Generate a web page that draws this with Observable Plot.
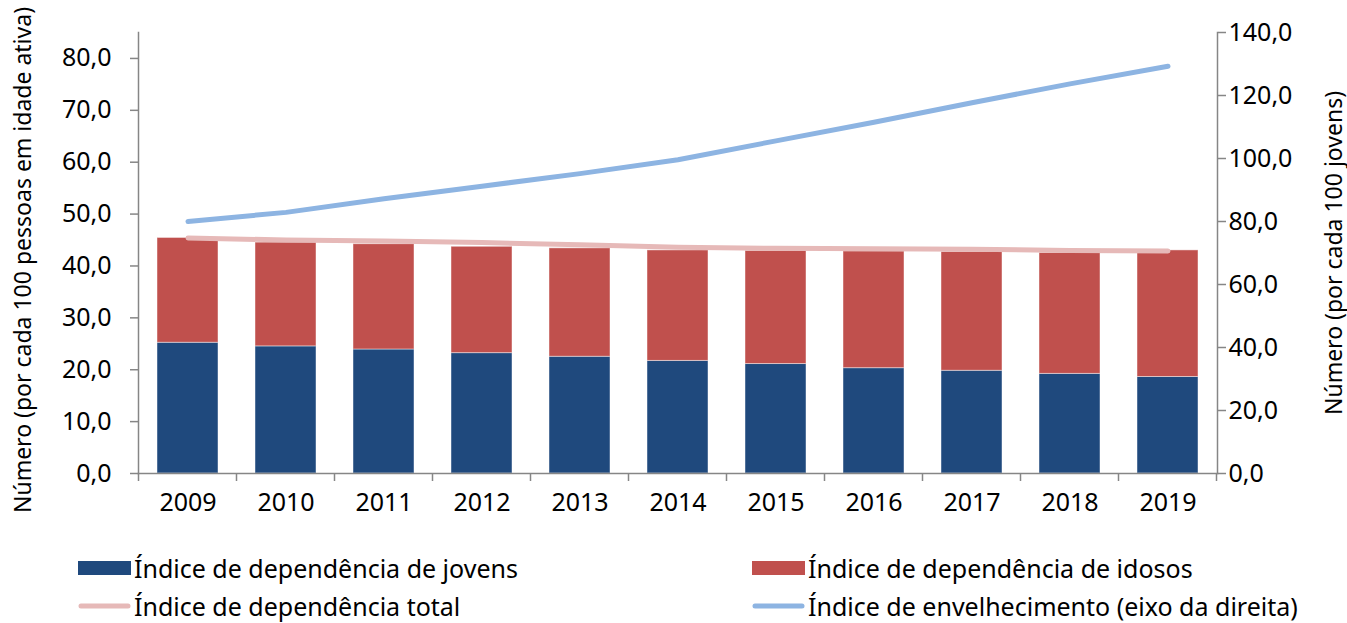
<!DOCTYPE html>
<html><head><meta charset="utf-8">
<script src="https://cdn.jsdelivr.net/npm/d3@7"></script>
<script src="https://cdn.jsdelivr.net/npm/@observablehq/plot@0.6"></script>
<style>
body{margin:0;background:#fff;font-family:"Noto Sans",sans-serif;}
#chart svg{display:block;}
#legend{position:relative;width:1347px;height:93px;}
.item{position:absolute;display:flex;align-items:center;height:34px;font-size:25px;color:#000;white-space:nowrap;}
.sw{display:inline-block;margin-right:3px;}
</style></head><body>
<div id="chart"></div>
<div id="legend"></div>
<script>
const years = ["2009","2010","2011","2012","2013","2014","2015","2016","2017","2018","2019"];
const jovens = [25.2, 24.5, 23.9, 23.2, 22.5, 21.7, 21.1, 20.3, 19.8, 19.2, 18.6];
const idosos = [20.2, 20.0, 20.3, 20.5, 20.9, 21.3, 21.8, 22.5, 22.9, 23.3, 24.4];
const total = [45.4, 45.0, 44.8, 44.5, 44.1, 43.6, 43.4, 43.3, 43.2, 43.0, 42.9];
const envelhecimento = [80.0, 82.9, 87.2, 91.2, 95.2, 99.6, 105.6, 111.5, 117.7, 123.7, 129.3];
const leftTicks = [0, 10, 20, 30, 40, 50, 60, 70, 80];
const rightTicks = [0, 20, 40, 60, 80, 100, 120, 140];
const leftMax = 85, rightMax = 140;
const leftTitle = "Número (por cada 100 pessoas em idade ativa)";
const rightTitle = "Número (por cada 100 jovens)";
const seriesNames = ["Índice de dependência de jovens", "Índice de dependência de idosos", "Índice de dependência total", "Índice de envelhecimento (eixo da direita)"];
const colors = {jovens: "#1F497D", idosos: "#C0504D", total: "#E6B9B8", env: "#8DB4E2"};
const axisGray = "#868686";

const bars = years.flatMap((y, i) => [
  {year: y, serie: "jovens", v: jovens[i]},
  {year: y, serie: "idosos", v: idosos[i]}
]);
const lines = years.map((y, i) => ({year: y, total: total[i], env: envelhecimento[i] * leftMax / rightMax}));
const fmt = v => v.toFixed(1).replace(".", ",");

const chart = Plot.plot({
  width: 1347, height: 530,
  marginLeft: 138, marginRight: 130, marginTop: 32, marginBottom: 57,
  style: {fontFamily: "'Noto Sans', sans-serif", fontSize: "25px", background: "white", overflow: "visible", color: "#000"},
  x: {domain: years, paddingInner: 0.38, paddingOuter: 0.19, axis: null},
  y: {domain: [0, leftMax], axis: null},
  color: {domain: ["jovens", "idosos"], range: [colors.jovens, colors.idosos]},
  marks: [
    Plot.barY(bars, {x: "year", y: "v", fill: "serie", stroke: "#ffffff", strokeOpacity: 0.45, strokeWidth: 1}),
    Plot.line(lines, {x: "year", y: "total", stroke: colors.total, strokeWidth: 5, strokeLinecap: "round"}),
    Plot.line(lines, {x: "year", y: "env", stroke: colors.env, strokeWidth: 5, strokeLinecap: "round"}),
    Plot.frame({anchor: "left", stroke: axisGray, strokeWidth: 1.5}),
    Plot.frame({anchor: "right", stroke: axisGray, strokeWidth: 1.5}),
    Plot.frame({anchor: "bottom", stroke: axisGray, strokeWidth: 1.5}),
    Plot.axisY(leftTicks, {anchor: "left", tickSize: 8, tickPadding: 19, tickFormat: fmt, stroke: axisGray, strokeWidth: 1.5, fontSize: 25, label: null}),
    Plot.axisY(rightTicks.map(t => t * leftMax / rightMax), {anchor: "right", tickSize: 8, tickPadding: 3, tickFormat: d => fmt(Math.round(d * rightMax / leftMax)), stroke: axisGray, strokeWidth: 1.5, fontSize: 25, label: null}),
    Plot.axisX({anchor: "bottom", tickSize: 0, tickPadding: 20, fontSize: 25, label: null}),
    Plot.text([leftTitle], {frameAnchor: "left", textAnchor: "middle", lineAnchor: "middle", rotate: -90, dx: -115, dy: 7, text: d => d, fontSize: 23}),
    Plot.text([rightTitle], {frameAnchor: "right", textAnchor: "middle", lineAnchor: "middle", rotate: -90, dx: 117, text: d => d, fontSize: 23})
  ]
});
document.getElementById("chart").appendChild(chart);

// category boundary tick marks on the x axis, from the x scale
const xs = chart.scale("x"), ys = chart.scale("y");
const step = xs.step ?? (xs.bandwidth / (1 - 0.38));
const half = (step - xs.bandwidth) / 2;
const bounds = years.map(y => xs.apply(y) - half).concat([xs.apply(years[years.length - 1]) + xs.bandwidth + half]);
const y0 = ys.apply(0);
d3.select(chart).append("g").selectAll("line").data(bounds).join("line")
  .attr("x1", d => d).attr("x2", d => d).attr("y1", y0).attr("y2", y0 + 8)
  .attr("stroke", axisGray).attr("stroke-width", 1.5);

// legend
const legend = d3.select("#legend");
const items = [
  {name: seriesNames[0], type: "rect", color: colors.jovens, left: 78, top: 21},
  {name: seriesNames[1], type: "rect", color: colors.idosos, left: 752, top: 21},
  {name: seriesNames[2], type: "line", color: colors.total, left: 78, top: 59},
  {name: seriesNames[3], type: "line", color: colors.env, left: 752, top: 59}
];
items.forEach(it => {
  const d = legend.append("div").attr("class", "item").style("left", it.left + "px").style("top", it.top + "px");
  const s = d.append("svg").attr("class", "sw").attr("width", 53).attr("height", 20);
  if (it.type === "rect") s.append("rect").attr("x", 0).attr("y", 3).attr("width", 53).attr("height", 14).attr("fill", it.color);
  else s.append("line").attr("x1", 3).attr("x2", 50).attr("y1", 10).attr("y2", 10).attr("stroke", it.color).attr("stroke-width", 5).attr("stroke-linecap", "round");
  d.append("span").text(it.name);
});
</script>
</body></html>
